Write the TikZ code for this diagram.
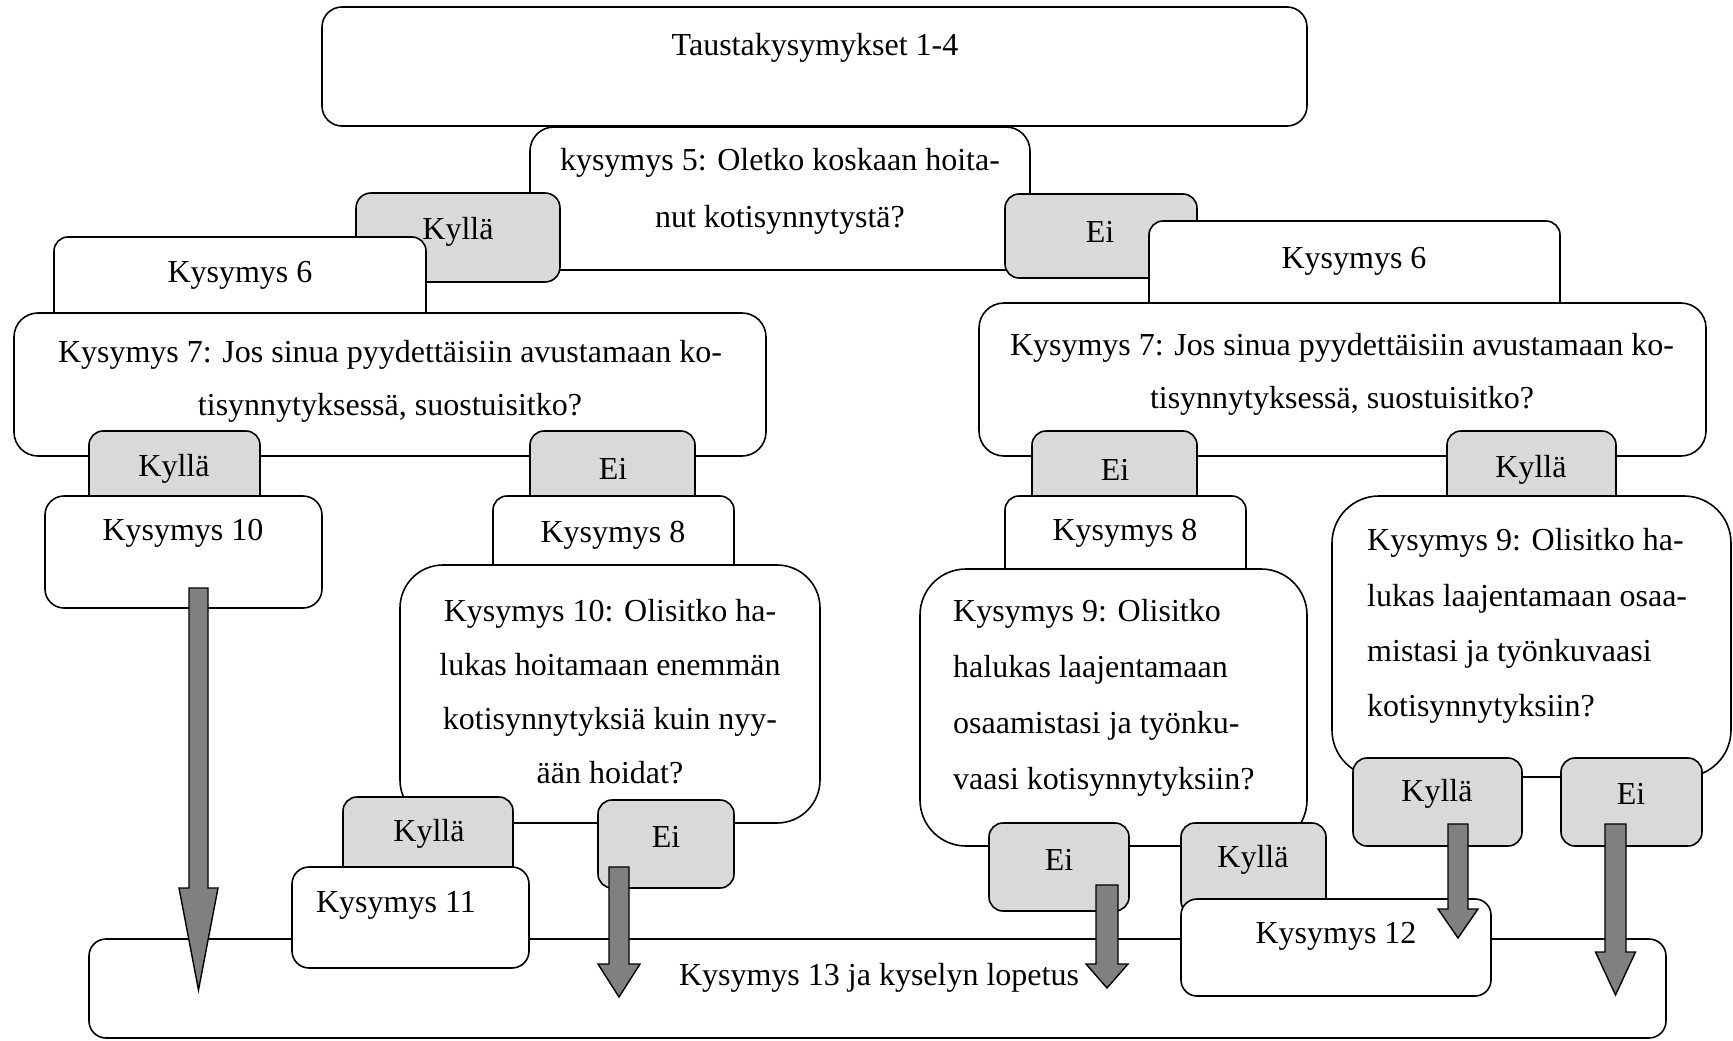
\documentclass[tikz,border=0pt]{standalone}
\usepackage{fontspec}
\setmainfont{Liberation Serif}
\definecolor{grayfill}{HTML}{D9D9D9}
\definecolor{arrowgray}{HTML}{808080}
\newcommand{\mkbox}[7]{\node[#2, rounded corners=#7pt, minimum width={(#5-#3)*1pt}, minimum height={(#6-#4)*1pt}] (#1) at (#3,#4) {};}
\newcommand{\blkarrow}[7]{\draw[barrow] (#2-#6,#3) -- (#2+#6,#3) -- (#2+#6,#4) -- (#2+#7,#4) -- (#2,#5) -- (#2-#7,#4) -- (#2-#6,#4) -- cycle; \coordinate (#1) at (#2,#5);}
\begin{document}
\begin{tikzpicture}[x=1pt,y=-1pt,
  box/.style={draw=black, line width=1.6pt, fill=white, inner sep=0pt, outer sep=0pt, anchor=north west},
  gbox/.style={box, fill=grayfill},
  txt/.style={inner sep=0pt, font=\fontsize{32}{54}\selectfont, align=center},
  ltxt/.style={txt, align=left, anchor=west},
  barrow/.style={draw=black, line width=1.4pt, fill=arrowgray, line join=miter}]
\useasboundingbox (0,0) rectangle (1733,1041);
% boxes
\mkbox{tausta}{box}{322}{7}{1307}{126}{20}
\mkbox{k5}{box}{530}{127}{1030}{270}{24}
\mkbox{kylla1}{gbox}{356}{193}{560}{282}{15}
\mkbox{ei1}{gbox}{1005}{194}{1197}{278}{14}
\mkbox{k6L}{box}{54}{237}{426}{330}{14}
\mkbox{k6R}{box}{1149}{221}{1560}{320}{14}
\mkbox{k7L}{box}{14}{313}{766}{456}{24}
\mkbox{k7R}{box}{979}{303}{1706}{456}{25}
\mkbox{kylla2}{gbox}{89}{431}{260}{515}{14}
\mkbox{ei2}{gbox}{530}{431}{695}{515}{14}
\mkbox{ei3}{gbox}{1032}{431}{1197}{515}{14}
\mkbox{kylla3}{gbox}{1447}{431}{1616}{515}{14}
\mkbox{k10}{box}{45}{496}{322}{608}{19}
\mkbox{k8L}{box}{493}{496}{734}{585}{14}
\mkbox{k8R}{box}{1005}{496}{1246}{590}{14}
\mkbox{k10q}{box}{400}{565}{820}{823}{43}
\mkbox{k9L}{box}{920}{569}{1307}{846}{46}
\mkbox{k9R}{box}{1332}{496}{1731}{777}{47}
\mkbox{kylla4}{gbox}{343}{797}{513}{885}{14}
\mkbox{ei4}{gbox}{598}{800}{734}{888}{14}
\mkbox{ei5}{gbox}{989}{823}{1129}{911}{14}
\mkbox{kylla5}{gbox}{1181}{823}{1326}{915}{14}
\mkbox{kylla6}{gbox}{1353}{758}{1522}{846}{14}
\mkbox{ei6}{gbox}{1561}{758}{1702}{846}{14}
\mkbox{k13}{box}{89}{939}{1666}{1038}{17}
\mkbox{k11}{box}{292}{867}{529}{968}{17}
\mkbox{k12}{box}{1181}{899}{1491}{996}{16}
% texts
\node[txt] (t-tausta) at (815,48) {Taustakysymykset 1-4};
\node[txt, font=\fontsize{32}{57}\selectfont] (t-k5) at (780,191) {kysymys 5: Oletko koskaan hoita-\\nut kotisynnytystä?};
\node[txt] (t-kylla1) at (458,232) {Kyllä};
\node[txt] (t-ei1) at (1100,232) {Ei};
\node[txt] (t-k6L) at (240,275) {Kysymys 6};
\node[txt] (t-k6R) at (1354,261) {Kysymys 6};
\node[txt, font=\fontsize{32}{53}\selectfont] (t-k7L) at (390,381) {Kysymys 7: Jos sinua pyydettäisiin avustamaan ko-\\tisynnytyksessä, suostuisitko?};
\node[txt, font=\fontsize{32}{53}\selectfont] (t-k7R) at (1342,374) {Kysymys 7: Jos sinua pyydettäisiin avustamaan ko-\\tisynnytyksessä, suostuisitko?};
\node[txt] (t-kylla2) at (174,469) {Kyllä};
\node[txt] (t-ei2) at (613,469) {Ei};
\node[txt] (t-ei3) at (1115,470) {Ei};
\node[txt] (t-kylla3) at (1531,470) {Kyllä};
\node[txt] (t-k10) at (183,533) {Kysymys 10};
\node[txt] (t-k8L) at (613,535) {Kysymys 8};
\node[txt] (t-k8R) at (1125,533) {Kysymys 8};
\node[txt] (t-k10q) at (610,692) {Kysymys 10: Olisitko ha-\\lukas hoitamaan enemmän\\kotisynnytyksiä kuin nyy-\\ään hoidat?};
\node[ltxt, font=\fontsize{32}{56}\selectfont] (t-k9L) at (953,698) {Kysymys 9: Olisitko\\halukas laajentamaan\\osaamistasi ja työnku-\\vaasi kotisynnytyksiin?};
\node[ltxt, font=\fontsize{32}{55.3}\selectfont] (t-k9R) at (1367,626) {Kysymys 9: Olisitko ha-\\lukas laajentamaan osaa-\\mistasi ja työnkuvaasi\\kotisynnytyksiin?};
\node[txt] (t-kylla4) at (429,834) {Kyllä};
\node[txt] (t-ei4) at (666,837) {Ei};
\node[txt] (t-ei5) at (1059,860) {Ei};
\node[txt] (t-kylla5) at (1253,860) {Kyllä};
\node[txt] (t-kylla6) at (1437,794) {Kyllä};
\node[txt] (t-ei6) at (1631,794) {Ei};
\node[txt] (t-k13) at (879,978) {Kysymys 13 ja kyselyn lopetus};
\node[txt] (t-k11) at (396,905) {Kysymys 11};
\node[txt] (t-k12) at (1336,936) {Kysymys 12};
% block arrows
\blkarrow{a1}{198.5}{588}{888}{990}{9.5}{19.5}
\blkarrow{a2}{619}{867}{964}{997}{10}{21}
\blkarrow{a3}{1107}{885}{964}{988}{11}{21}
\blkarrow{a4}{1458}{824}{909}{938}{10}{20}
\blkarrow{a5}{1615.5}{824}{952}{995}{10.5}{20}
\end{tikzpicture}
\end{document}
